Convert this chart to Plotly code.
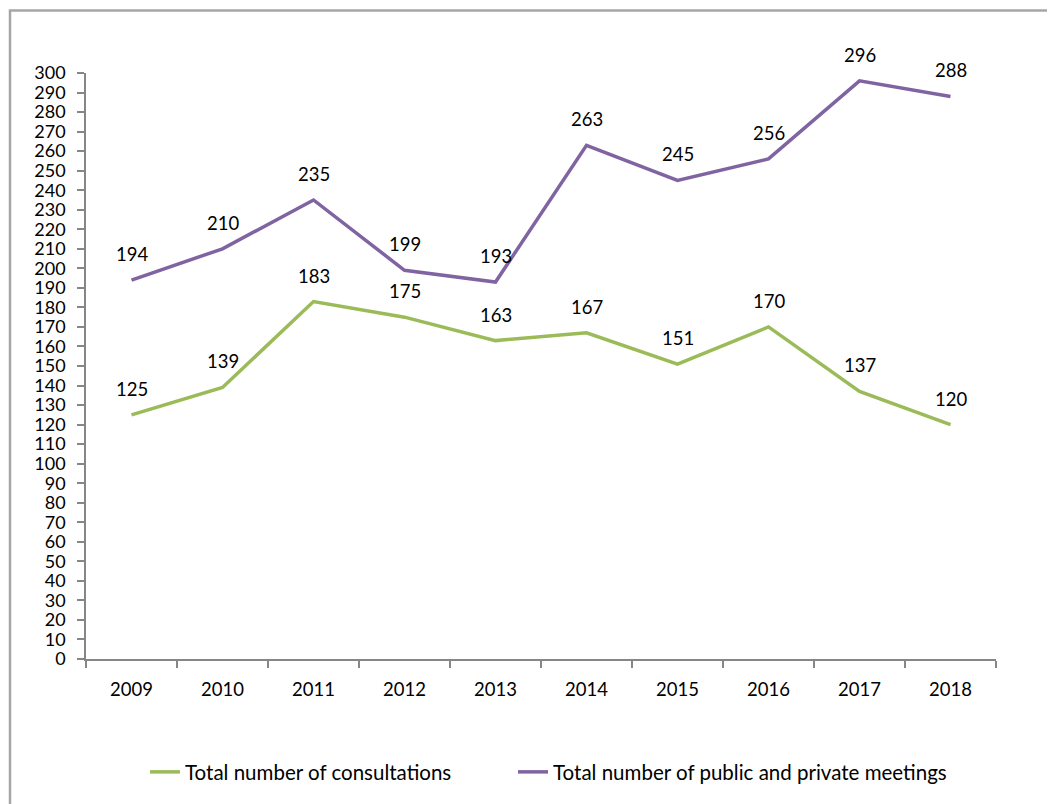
import plotly.graph_objects as go

years = ["2009", "2010", "2011", "2012", "2013", "2014", "2015", "2016", "2017", "2018"]
consultations = [125, 139, 183, 175, 163, 167, 151, 170, 137, 120]
meetings = [194, 210, 235, 199, 193, 263, 245, 256, 296, 288]

series_names = ["Total number of consultations", "Total number of public and private meetings"]
series_colors = ["#9BBB59", "#8064A2"]
series_values = [consultations, meetings]
series_legends = ["legend", "legend2"]

FONT = "Lato, Carlito, Calibri, sans-serif"

fig = go.Figure()
for name, color, vals, lg in zip(series_names, series_colors, series_values, series_legends):
    fig.add_trace(go.Scatter(
        x=years, y=vals, mode="lines", name=name, legend=lg,
        line=dict(color=color, width=3.5),
    ))
    for i, v in enumerate(vals):
        fig.add_annotation(x=i, y=v, text=str(v), showarrow=False, yshift=26,
                           font=dict(family=FONT, size=18.5, color="#000000"))

OFF = 8  # page body margin
W, H = 1055 - OFF, 804 - OFF
L = 86 - OFF
T = 73 - OFF
R = W - (996 - OFF)
B = H - (664 - OFF)
pw, ph = W - L - R, H - T - B

def px_x(x):
    return (x - OFF - L) / pw

def px_y(y):
    return (H - B - (y - OFF)) / ph

fig.add_shape(type="rect", xref="paper", yref="paper",
              x0=px_x(10), x1=px_x(1080), y0=px_y(830), y1=px_y(10),
              line=dict(color="#A6A6A6", width=2.5), fillcolor="rgba(0,0,0,0)", layer="below")

legend_font = dict(family=FONT, size=20.5, color="#000000")
fig.update_layout(
    width=W, height=H,
    margin=dict(l=L, r=R, t=T, b=B),
    paper_bgcolor="white", plot_bgcolor="white",
    font=dict(family=FONT, size=18, color="#000000"),
    showlegend=True,
    legend=dict(orientation="h", x=px_x(145), xanchor="left", y=px_y(778), yanchor="middle",
                font=legend_font, bgcolor="rgba(0,0,0,0)"),
    legend2=dict(orientation="h", x=px_x(513), xanchor="left", y=px_y(778), yanchor="middle",
                 font=legend_font, bgcolor="rgba(0,0,0,0)"),
    xaxis=dict(type="category", range=[-0.5, len(years) - 0.5], showgrid=False, showline=True,
               linecolor="#868686", linewidth=1.5,
               ticks="outside", tickson="boundaries", ticklen=7, tickcolor="#868686", tickwidth=1.5,
               ticklabelstandoff=13, tickangle=0, tickfont=dict(family=FONT, size=18.5), fixedrange=True),
    yaxis=dict(range=[0, 300], dtick=10, tick0=0, showgrid=False, showline=True, linecolor="#868686",
               linewidth=1.5, ticks="outside", ticklen=7, tickcolor="#868686", tickwidth=1.5,
               ticklabelstandoff=8, tickfont=dict(family=FONT, size=18), zeroline=False, fixedrange=True),
)

fig.write_html("out.html")
